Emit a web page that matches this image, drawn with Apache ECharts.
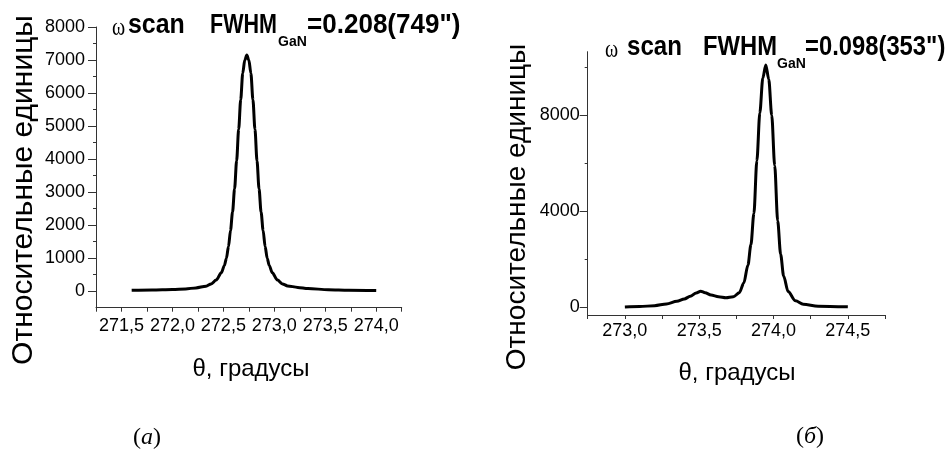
<!DOCTYPE html>
<html>
<head>
<meta charset="utf-8">
<script src="https://cdn.jsdelivr.net/npm/echarts@6/dist/echarts.min.js"></script>
<style>
html,body{margin:0;padding:0;background:#fff;}
#main{width:949px;height:450px;}
</style>
</head>
<body>
<div id="main"></div>
<script>
// ---- Panel (а): ω scan, FWHM 0.208
const thetaA = [271.60, 271.80, 272.00, 272.13, 272.23, 272.33, 272.38, 272.43, 272.48, 272.51, 272.53, 272.55, 272.57, 272.59, 272.61, 272.63, 272.65, 272.67, 272.69, 272.71, 272.73, 272.75, 272.77, 272.79, 272.81, 272.83, 272.85, 272.87, 272.89, 272.91, 272.93, 272.95, 272.98, 273.03, 273.08, 273.13, 273.23, 273.33, 273.53, 273.73, 274.00];
const intensityA = [25, 35, 50, 70, 100, 150, 220, 340, 560, 780, 1000, 1350, 1840, 2400, 3100, 3950, 4900, 5800, 6600, 7000, 7150, 7000, 6600, 5800, 4900, 3950, 3100, 2400, 1840, 1350, 1000, 780, 560, 340, 220, 160, 115, 80, 45, 30, 20];
const xLabelsA = [271.5, 272.0, 272.5, 273.0, 273.5, 274.0];
const xTickMarksA = [271.25, 271.5, 271.75, 272.0, 272.25, 272.5, 272.75, 273.0, 273.25, 273.5, 273.75, 274.0, 274.25];
const yLabelsA = [0, 1000, 2000, 3000, 4000, 5000, 6000, 7000, 8000];
const yMinorA = [500, 1500, 2500, 3500, 4500, 5500, 6500, 7500];

// ---- Panel (б): ω scan, FWHM 0.098
const thetaB = [273.00, 273.10, 273.20, 273.28, 273.35, 273.40, 273.44, 273.48, 273.51, 273.54, 273.58, 273.63, 273.68, 273.73, 273.77, 273.80, 273.828, 273.848, 273.868, 273.888, 273.908, 273.928, 273.948, 273.968, 273.988, 274.008, 274.028, 274.048, 274.068, 274.098, 274.148, 274.20, 274.30, 274.50];
const intensityB = [0, 20, 60, 130, 240, 340, 450, 590, 660, 600, 500, 430, 390, 430, 600, 1000, 1750, 2600, 3900, 6100, 8100, 9550, 10100, 9500, 8000, 5900, 3600, 2200, 1300, 650, 260, 120, 40, 10];
const xLabelsB = [273.0, 273.5, 274.0, 274.5];
const xTickMarksB = [272.75, 273.0, 273.25, 273.5, 273.75, 274.0, 274.25, 274.5, 274.75];
const yLabelsB = [0, 4000, 8000];
const yMinorB = [2000, 6000, 10000];

const axisTitleY = 'Относительные единицы';
const axisTitleX = 'θ, градусы';
const titleA = { pre: 'scan', main: 'FWHM', sub: 'GaN', post: '=0.208(749")' };
const titleB = { pre: 'scan', main: 'FWHM', sub: 'GaN', post: '=0.098(353")' };

const SANS = '"Liberation Sans", Arial, sans-serif';
const SERIF = '"Liberation Serif", "Times New Roman", serif';
const AX = '#333';
const fmtX = v => v.toFixed(1).replace('.', ',');
const fmtY = v => String(v);

function xAxisDef(grid, min, max, ticks, labels, margin) {
  return {
    type: 'value', gridIndex: grid, min: min, max: max,
    axisLine: { show: true, onZero: false, lineStyle: { color: AX, width: 1 } },
    axisTick: { show: true, customValues: ticks, length: 4, lineStyle: { color: AX } },
    axisLabel: { show: true, customValues: labels, formatter: fmtX, fontSize: 18, fontFamily: SANS, color: '#000', margin: margin },
    splitLine: { show: false }
  };
}
function yAxisDef(grid, min, max, labels, margin) {
  return {
    type: 'value', gridIndex: grid, min: min, max: max, position: 'left',
    axisLine: { show: true, onZero: false, lineStyle: { color: AX, width: 1 } },
    axisTick: { show: true, customValues: labels, length: 8, lineStyle: { color: AX } },
    axisLabel: { show: true, customValues: labels, formatter: fmtY, fontSize: 18, fontFamily: SANS, color: '#000', margin: margin, padding: [3, 0, 0, 0] },
    splitLine: { show: false }
  };
}
function yMinorDef(grid, min, max, minors) {
  return {
    type: 'value', gridIndex: grid, min: min, max: max, position: 'left', offset: 0,
    axisLine: { show: false },
    axisTick: { show: true, customValues: minors, length: 3, lineStyle: { color: AX } },
    axisLabel: { show: false },
    splitLine: { show: false }
  };
}
// xs: left edges; sx: horizontal compression for each piece (narrow bold face look)
function titleParts(t, capMid, xs, sx) {
  const bold = (text, x, y, size, scale) => ({
    type: 'text', x: x, y: y, scaleX: scale, scaleY: 1,
    style: { text: text, fontSize: size, fontWeight: 'bold', fontFamily: SANS, fill: '#000', align: 'left', verticalAlign: 'middle' }
  });
  return [
    { type: 'text', x: xs[0], y: capMid + 3, scaleX: 0.8, scaleY: 1,
      style: { text: 'ω', fontSize: 25, fontFamily: SERIF, fill: '#000', align: 'left', verticalAlign: 'middle' } },
    bold(t.pre, xs[1], capMid, 28, sx[0]),
    bold(t.main, xs[2], capMid, 28, sx[1]),
    bold(t.sub, xs[3], capMid + 17, 14, sx[2]),
    bold(t.post, xs[4], capMid, 28, sx[3])
  ];
}

const chart = echarts.init(document.getElementById('main'), null, { renderer: 'canvas' });
chart.setOption({
  animation: false,
  backgroundColor: '#fff',
  grid: [
    { left: 96, top: 27, width: 305.7, height: 280.7, containLabel: false },
    { left: 587.7, top: 51.7, width: 297.3, height: 263.3, containLabel: false }
  ],
  xAxis: [
    xAxisDef(0, 271.25, 274.25, xTickMarksA, xLabelsA, 9),
    xAxisDef(1, 272.75, 274.75, xTickMarksB, xLabelsB, 7)
  ],
  yAxis: [
    yAxisDef(0, -500, 8000, yLabelsA, 11),
    yMinorDef(0, -500, 8000, yMinorA),
    yAxisDef(1, -330, 10650, yLabelsB, 8),
    yMinorDef(1, -330, 10650, yMinorB)
  ],
  series: [
    { type: 'line', xAxisIndex: 0, yAxisIndex: 0, data: thetaA.map((x, i) => [x, intensityA[i]]),
      symbol: 'none', smooth: 0.3, smoothMonotone: 'x', lineStyle: { color: '#000', width: 3 }, z: 5 },
    { type: 'line', xAxisIndex: 1, yAxisIndex: 2, data: thetaB.map((x, i) => [x, intensityB[i]]),
      symbol: 'none', smooth: 0.3, smoothMonotone: 'x', lineStyle: { color: '#000', width: 3 }, z: 5 }
  ],
  graphic: [
    { type: 'text', x: 23.5, y: 190, rotation: Math.PI / 2, style: { text: axisTitleY, fontSize: 30, fontFamily: SANS, fill: '#000', align: 'center', verticalAlign: 'middle' } },
    { type: 'text', x: 517, y: 207, rotation: Math.PI / 2, style: { text: axisTitleY, fontSize: 28, fontFamily: SANS, fill: '#000', align: 'center', verticalAlign: 'middle' } },
    { type: 'text', x: 251, y: 369, style: { text: axisTitleX, fontSize: 24, fontFamily: SANS, fill: '#000', align: 'center', verticalAlign: 'middle' } },
    { type: 'text', x: 737, y: 373, style: { text: axisTitleX, fontSize: 24, fontFamily: SANS, fill: '#000', align: 'center', verticalAlign: 'middle' } },
    { type: 'text', x: 147, y: 438, style: { text: '{p|(}{i|а}{p|)}', rich: { p: { fontSize: 24, fontFamily: SERIF, fill: '#000' }, i: { fontSize: 24, fontFamily: SERIF, fontStyle: 'italic', fill: '#000' } }, align: 'center', verticalAlign: 'middle' } },
    { type: 'text', x: 810, y: 437, style: { text: '{p|(}{i|б}{p|)}', rich: { p: { fontSize: 24, fontFamily: SERIF, fill: '#000' }, i: { fontSize: 24, fontFamily: SERIF, fontStyle: 'italic', fill: '#000' } }, align: 'center', verticalAlign: 'middle' } }
  ].concat(titleParts(titleA, 25, [112, 128, 210, 278, 307], [0.89, 0.77, 1.0, 0.93]))
   .concat(titleParts(titleB, 47.5, [605, 627, 703, 777, 805], [0.86, 0.85, 1.0, 0.85]))
});
</script>
</body>
</html>
